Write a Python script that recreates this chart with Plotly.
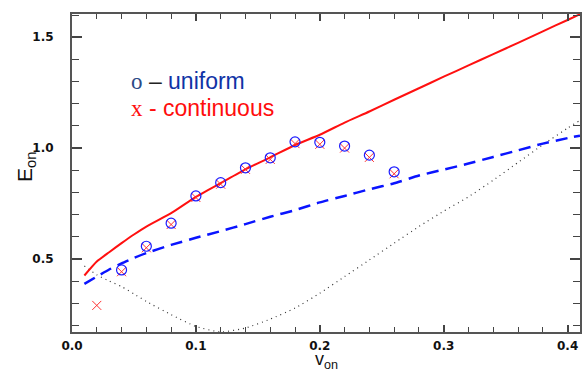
import plotly.graph_objects as go

# ---- data ----
x_line = [0.01, 0.02, 0.03, 0.04, 0.05, 0.06, 0.08, 0.10, 0.12, 0.14, 0.16, 0.18,
          0.20, 0.22, 0.24, 0.26, 0.28, 0.30, 0.32, 0.34, 0.36, 0.38, 0.40, 0.41]
e_continuous_model = [0.425, 0.488, 0.530, 0.571, 0.610, 0.646, 0.706, 0.780, 0.842, 0.904,
                      0.958, 1.014, 1.060, 1.115, 1.165, 1.218, 1.270, 1.322, 1.373, 1.424,
                      1.475, 1.527, 1.578, 1.604]
e_uniform_model = [0.387, 0.420, 0.452, 0.480, 0.504, 0.526, 0.563, 0.595, 0.625, 0.657,
                   0.690, 0.720, 0.755, 0.784, 0.814, 0.841, 0.876, 0.903, 0.930, 0.960,
                   0.990, 1.020, 1.045, 1.056]
e_dotted = [0.468, 0.428, 0.400, 0.375, 0.342, 0.308, 0.248, 0.195, 0.170, 0.188,
            0.228, 0.278, 0.345, 0.420, 0.495, 0.571, 0.646, 0.715, 0.780, 0.855,
            0.935, 1.015, 1.090, 1.125]

v_uniform = [0.04, 0.06, 0.08, 0.10, 0.12, 0.14, 0.16, 0.18, 0.20, 0.22, 0.24, 0.26]
e_uniform = [0.450, 0.557, 0.661, 0.784, 0.844, 0.911, 0.956, 1.028, 1.026, 1.009, 0.968, 0.893]

v_continuous = [0.02, 0.04, 0.06, 0.08, 0.10, 0.12, 0.14, 0.16, 0.18, 0.20, 0.22, 0.24, 0.26]
e_continuous = [0.290, 0.442, 0.550, 0.655, 0.777, 0.837, 0.904, 0.949, 1.020, 1.017, 1.000, 0.958, 0.884]

x_ticks = [0.0, 0.1, 0.2, 0.3, 0.4]
x_ticklabels = ["0.0", "0.1", "0.2", "0.3", "0.4"]
y_ticks = [0.5, 1.0, 1.5]
y_ticklabels = ["0.5", "1.0", "1.5"]

fig = go.Figure()

fig.add_trace(go.Scatter(x=x_line, y=e_dotted, mode="lines",
                         line=dict(color="#333333", width=1.2, dash="1px,4px", shape="spline", smoothing=0.5),
                         showlegend=False, hoverinfo="skip"))
fig.add_trace(go.Scatter(x=x_line, y=e_uniform_model, mode="lines",
                         line=dict(color="#0a14ff", width=2.5, dash="12px,7px", shape="spline", smoothing=0.5),
                         showlegend=False))
fig.add_trace(go.Scatter(x=x_line, y=e_continuous_model, mode="lines",
                         line=dict(color="#ff1010", width=2, shape="spline", smoothing=0.5),
                         showlegend=False))
fig.add_trace(go.Scatter(x=v_continuous, y=e_continuous, mode="markers",
                         marker=dict(symbol="x-thin", size=9,
                                     line=dict(color="#ff3030", width=1)),
                         showlegend=False))
fig.add_trace(go.Scatter(x=v_uniform, y=e_uniform, mode="markers",
                         marker=dict(symbol="circle-open", size=10, color="#1a1aff",
                                     line=dict(color="#1a1aff", width=1.2)),
                         showlegend=False))

tickfont = dict(family="DejaVu Sans", size=12, color="#111111", weight="bold")

fig.update_layout(
    width=582, height=371,
    margin=dict(l=72, r=0, t=14, b=39),
    paper_bgcolor="white", plot_bgcolor="white",
    xaxis=dict(range=[0, 0.41], showgrid=False, zeroline=False,
               showline=True, linecolor="#555555", linewidth=2, mirror="ticks",
               ticks="inside", ticklen=7, tickwidth=1.5, tickcolor="#444444",
               tickvals=x_ticks, ticktext=x_ticklabels, tickfont=tickfont,
               ticklabelstandoff=2,
               minor=dict(dtick=0.02, tick0=0, ticks="inside", ticklen=5,
                          tickwidth=1.2, tickcolor="#444444", showgrid=False)),
    yaxis=dict(range=[0.17, 1.605], showgrid=False, zeroline=False,
               showline=True, linecolor="#555555", linewidth=2, mirror="ticks",
               ticks="inside", ticklen=10, tickwidth=1.5, tickcolor="#444444",
               tickvals=y_ticks, ticktext=y_ticklabels, tickfont=tickfont,
               ticklabelstandoff=14,
               minor=dict(dtick=0.1, tick0=0, ticks="inside", ticklen=7,
                          tickwidth=1.2, tickcolor="#444444", showgrid=False)),
    showlegend=False,
)

fig.add_annotation(xref="paper", yref="paper", x=0.112, y=0.789,
                   xanchor="left", yanchor="middle", showarrow=False,
                   text='<span style="font-family:Liberation Serif;color:#2b4a86">o</span>'
                        '<span style="color:#222222"> – </span>uniform',
                   font=dict(family="Liberation Sans", size=23, color="#1033a6"))
fig.add_annotation(xref="paper", yref="paper", x=0.112, y=0.704,
                   xanchor="left", yanchor="middle", showarrow=False,
                   text='<span style="font-family:Liberation Serif">x</span> - continuous',
                   font=dict(family="Liberation Sans", size=23, color="#ff0d0d"))

fig.add_annotation(xref="paper", yref="paper", x=-0.092, y=0.52,
                   xanchor="center", yanchor="middle", showarrow=False, textangle=-90,
                   text="E<sub>on</sub>",
                   font=dict(family="Liberation Sans", size=21, color="#111111"))
fig.add_annotation(xref="paper", yref="paper", x=0.5, y=-0.05,
                   xanchor="center", yanchor="top", showarrow=False, borderpad=0,
                   text="v<sub>on</sub>",
                   font=dict(family="Liberation Sans", size=18, color="#111111"))

fig.write_html("out.html", config={"displayModeBar": False},
               post_script="document.body.style.margin='0px';")
